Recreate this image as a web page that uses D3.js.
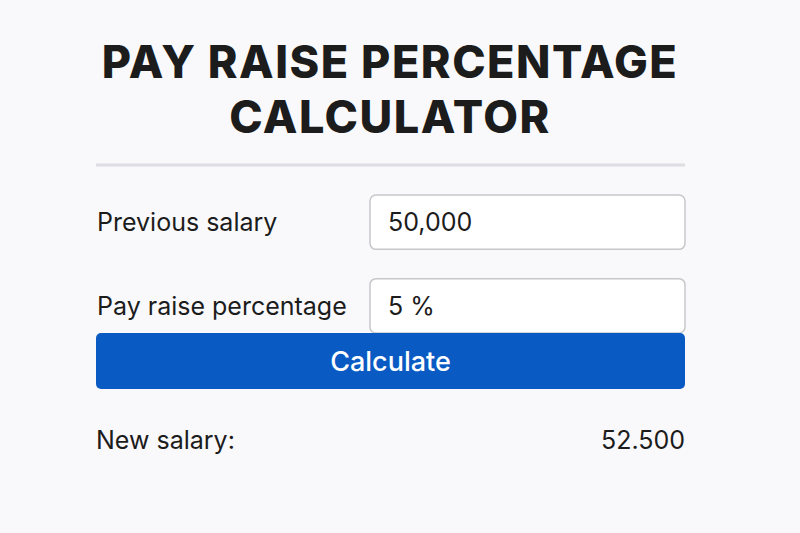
<!DOCTYPE html>
<html>
<head>
<meta charset="utf-8">
<script src="https://cdn.jsdelivr.net/npm/d3@7"></script>
<style>
  body { margin: 0; background: #f9f9fb; }
  svg { display: block; }
</style>
</head>
<body>
<div id="calc"></div>
<script>
const titleLines = ["PAY RAISE PERCENTAGE", "CALCULATOR"];
const fieldLabels = ["Previous salary", "Pay raise percentage"];
const fieldValues = ["50,000", "5 %"];
const buttonLabel = "Calculate";
const resultLabel = "New salary:";
const resultValue = "52.500";

const width = 800, height = 533;
const left = 96, right = 685;

const svg = d3.select("#calc").append("svg")
    .attr("width", width)
    .attr("height", height)
    .style("font-family", "Inter, 'Open Sans', sans-serif");

svg.append("rect").attr("width", width).attr("height", height).attr("fill", "#f9f9fb");

// title
svg.selectAll(".title")
    .data(titleLines)
    .join("text")
    .attr("class", "title")
    .attr("x", 390)
    .attr("y", (d, i) => 78 + i * 55)
    .attr("text-anchor", "middle")
    .attr("font-size", 45)
    .attr("font-weight", 800)
    .attr("letter-spacing", 1.5)
    .attr("fill", "#1c1c1c")
    .text(d => d);

svg.append("line")
    .attr("x1", left).attr("x2", right)
    .attr("y1", 165).attr("y2", 165)
    .attr("stroke", "#dddde3").attr("stroke-width", 3);

// input rows
const rowY = d3.scaleBand().domain(d3.range(fieldLabels.length)).range([195, 333]).paddingInner(0.35);

const rows = svg.selectAll(".row")
    .data(fieldLabels)
    .join("g")
    .attr("class", "row")
    .attr("transform", (d, i) => `translate(0, ${rowY(i)})`);

rows.append("text")
    .attr("x", 97)
    .attr("y", rowY.bandwidth() / 2 + 9)
    .attr("font-size", 25)
    .attr("fill", "#1c1c1c")
    .text(d => d);

rows.append("rect")
    .attr("x", 370).attr("width", right - 370)
    .attr("height", rowY.bandwidth())
    .attr("rx", 6)
    .attr("fill", "#fff")
    .attr("stroke", "#c8c8cc").attr("stroke-width", 1.5);

rows.append("text")
    .attr("x", 388)
    .attr("y", rowY.bandwidth() / 2 + 9)
    .attr("font-size", 25)
    .attr("fill", "#1c1c1c")
    .text((d, i) => fieldValues[i]);

// button
svg.append("rect")
    .attr("x", left).attr("y", 333)
    .attr("width", right - left).attr("height", 56)
    .attr("rx", 5)
    .attr("fill", "#0a5ac4");

svg.append("text")
    .attr("x", (left + right) / 2).attr("y", 371)
    .attr("text-anchor", "middle")
    .attr("font-size", 27)
    .attr("font-weight", 500)
    .attr("fill", "#fff")
    .text(buttonLabel);

// result
svg.append("text")
    .attr("x", left).attr("y", 449)
    .attr("font-size", 25)
    .attr("fill", "#1c1c1c")
    .text(resultLabel);

svg.append("text")
    .attr("x", right).attr("y", 449)
    .attr("text-anchor", "end")
    .attr("font-size", 25)
    .attr("fill", "#1c1c1c")
    .text(resultValue);
</script>
</body>
</html>
